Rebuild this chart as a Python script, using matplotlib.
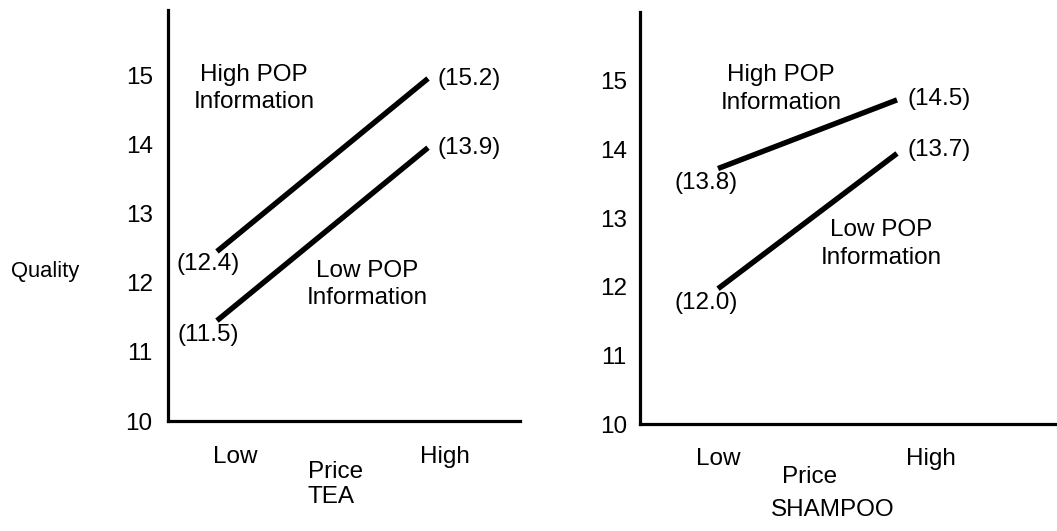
import matplotlib.pyplot as plt
from matplotlib.transforms import ScaledTranslation

plt.rcParams['font.family'] = ['Liberation Sans', 'DejaVu Sans']

price_levels = ["Low", "High"]
quality_ticks = [10, 11, 12, 13, 14, 15]

# line positions as drawn in the figure
tea_high_pop = [12.45, 14.95]
tea_low_pop = [11.45, 13.95]
shampoo_high_pop = [13.72, 14.72]
shampoo_low_pop = [11.97, 13.94]

# printed means
tea_high_labels = ["(12.4)", "(15.2)"]
tea_low_labels = ["(11.5)", "(13.9)"]
shampoo_high_labels = ["(13.8)", "(14.5)"]
shampoo_low_labels = ["(12.0)", "(13.7)"]

fs = 17.5
fig = plt.figure(figsize=(10.57, 5.31), dpi=100)

ax1 = fig.add_axes([168 / 1057, 1 - 421 / 531, 352 / 1057, 411 / 531])
ax2 = fig.add_axes([640 / 1057, 1 - 424 / 531, 417 / 1057, 412 / 531])


def setup(ax, xlim, ylim, xpad, ypad, xshift):
    for s in ["top", "right"]:
        ax.spines[s].set_visible(False)
    for s in ["left", "bottom"]:
        ax.spines[s].set_linewidth(2.3)
    ax.set_xlim(*xlim)
    ax.set_ylim(*ylim)
    ax.set_yticks(quality_ticks)
    ax.set_xticks([0, 1])
    ax.set_xticklabels(price_levels)
    ax.tick_params(axis="y", length=0, pad=ypad, labelsize=fs)
    ax.tick_params(axis="x", length=0, pad=xpad, labelsize=fs)
    for lab, dx in zip(ax.get_xticklabels(), xshift):
        lab.set_transform(lab.get_transform() + ScaledTranslation(dx / 100, 0, fig.dpi_scale_trans))


setup(ax1, (-0.232, 1.436), (10, 15.94), 18, 11, [18, 17])
setup(ax2, (-0.436, 1.894), (10, 16.0), 17, 9.5, [0, 34])


def offset_label(ax, x, y, text, dx, dy, ha):
    ax.annotate(text, (x, y), xytext=(dx * 0.72, -dy * 0.72), textcoords="offset points",
                ha=ha, va="center", fontsize=fs)


xs = [0, 1]
for ax, hi, lo, hl, ll, ofs in [
    (ax1, tea_high_pop, tea_low_pop, tea_high_labels, tea_low_labels,
     [(-9, 13), (10, 0), (-9, 14), (10, 0)]),
    (ax2, shampoo_high_pop, shampoo_low_pop, shampoo_high_labels, shampoo_low_labels,
     [(-12, 14), (10, -1), (-12, 14), (10, -3)]),
]:
    ax.plot(xs, hi, color="black", lw=3.9, solid_capstyle="butt")
    ax.plot(xs, lo, color="black", lw=3.9, solid_capstyle="butt")
    offset_label(ax, 0, hi[0], hl[0], ofs[0][0], ofs[0][1], "center")
    offset_label(ax, 1, hi[1], hl[1], ofs[1][0], ofs[1][1], "left")
    offset_label(ax, 0, lo[0], ll[0], ofs[2][0], ofs[2][1], "center")
    offset_label(ax, 1, lo[1], ll[1], ofs[3][0], ofs[3][1], "left")

ls = 1.3
ax1.text(0.244, 0.81, "High POP\nInformation", transform=ax1.transAxes,
         ha="center", va="center", fontsize=fs, linespacing=ls)
ax1.text(0.565, 0.333, "Low POP\nInformation", transform=ax1.transAxes,
         ha="center", va="center", fontsize=fs, linespacing=ls)
ax2.text(0.338, 0.813, "High POP\nInformation", transform=ax2.transAxes,
         ha="center", va="center", fontsize=fs, linespacing=ls)
ax2.text(0.578, 0.437, "Low POP\nInformation", transform=ax2.transAxes,
         ha="center", va="center", fontsize=fs, linespacing=ls)

fig.text(11 / 1057, 1 - 272 / 531, "Quality", ha="left", va="center", fontsize=15.8)
fig.text(336 / 1057, 1 - 472 / 531, "Price", ha="center", va="center", fontsize=fs)
fig.text(331 / 1057, 1 - 497 / 531, "TEA", ha="center", va="center", fontsize=fs)
fig.text(810 / 1057, 1 - 477 / 531, "Price", ha="center", va="center", fontsize=fs)
fig.text(833 / 1057, 1 - 510 / 531, "SHAMPOO", ha="center", va="center", fontsize=fs)

fig.savefig("out.png", dpi=100)
